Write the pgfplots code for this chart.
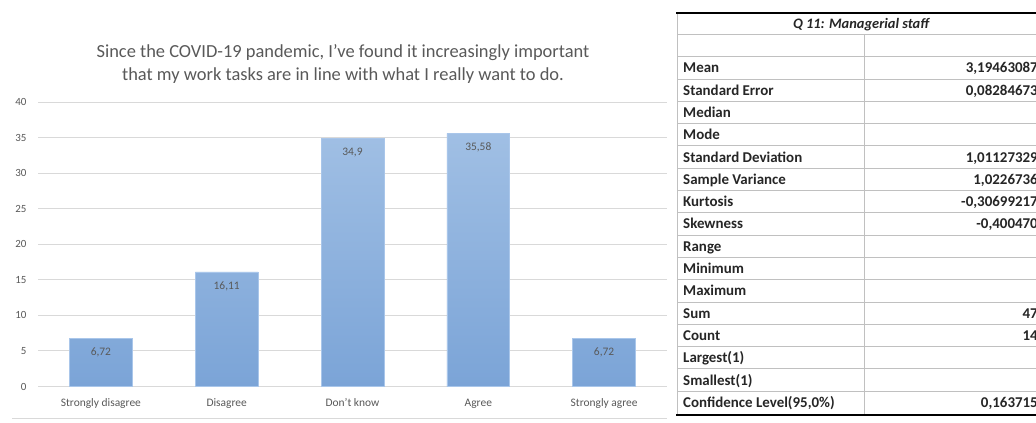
\documentclass[border=0pt]{standalone}
\usepackage{pgfplots}
\pgfplotsset{compat=1.18}
\usepackage{fontspec}
\setmainfont{Carlito}
\definecolor{txt}{HTML}{595959}
\definecolor{gridc}{HTML}{D9D9D9}
\definecolor{bartop}{HTML}{A0BFE4}
\definecolor{barbot}{HTML}{7BA4D7}
\definecolor{baredge}{HTML}{A9C6EA}
\definecolor{tblline}{HTML}{C0C0C0}
\definecolor{ttxt}{HTML}{262626}
\begin{document}
\begin{tikzpicture}
\path[use as bounding box] (0,0) rectangle (1036bp,-423bp);
\clip (0,0) rectangle (1036bp,-423bp);
\fill[white] (0,0) rectangle (1036bp,-423bp);
% title
\node[align=center, text=txt, font=\fontsize{18.5}{24}\selectfont] at (343bp,-64bp)
  {Since the COVID-19 pandemic, I've found it increasingly important\\that my work tasks are in line with what I really want to do.};
\begin{axis}[
  at={(38bp,-386.5bp)}, anchor=south west,
  scale only axis, width=629bp, height=284.5bp,
  xmin=-0.5, xmax=4.5, ymin=0, ymax=40,
  ytick={0,5,...,40},
  xtick=data,
  xticklabels={Strongly disagree, Disagree, Don't know, Agree, Strongly agree},
  axis line style={draw=none},
  ymajorgrids, grid style={gridc, line width=0.9bp},
  major tick length=0pt,
  tick label style={text=txt},
  yticklabel style={font=\fontsize{11}{12}\selectfont, anchor=east, xshift=-8bp},
  xticklabel style={font=\fontsize{11.5}{13}\selectfont, anchor=north, text height=8.5bp, text depth=2.5bp, yshift=-8bp},
  /pgf/number format/assume math mode=true,
  /pgf/number format/use comma,
  /pgf/number format/1000 sep={},
  ybar, bar width=0.5,
  nodes near coords,
  nodes near coords style={anchor=center, yshift=-14bp, text=txt, font=\fontsize{11.5}{13}\selectfont},
  clip=false,
]
\addplot[draw=baredge, line width=0.6bp, top color=bartop, bottom color=barbot]
  coordinates {(0,6.72) (1,16.11) (2,34.9) (3,35.58) (4,6.72)};
\end{axis}
\draw[gridc, line width=0.9bp] (12bp,-418bp) -- (667bp,-418bp);
% table
\begin{scope}[x=1bp,y=1bp]
\draw[tblline, line width=0.9bp] (677,-13) -- (677,-415);
\draw[tblline, line width=0.9bp] (864,-34.4) -- (864,-415);
\draw[tblline, line width=0.9bp] (677,-34.4) -- (1040,-34.4);
\draw[tblline, line width=0.9bp] (677,-56.7) -- (1040,-56.7);
\foreach \k in {1,...,15}{
  \draw[tblline, line width=0.9bp] (677,{-56.7-22.3*\k}) -- (1040,{-56.7-22.3*\k});
}
\draw[black, line width=2.6bp] (676,-13) -- (1040,-13);
\draw[black, line width=2.6bp] (676,-415) -- (1040,-415);
\node[text=ttxt, font=\fontsize{14.5}{16}\selectfont\bfseries\itshape] at (861,-25) {Q 11: Managerial staff};
\foreach \lab/\val [count=\i from 0] in {
  Mean/{3,19463087},
  Standard Error/{0,08284673},
  Median/{},
  Mode/{},
  Standard Deviation/{1,01127329},
  Sample Variance/{1,0226736},
  Kurtosis/{-0,30699217},
  Skewness/{-0,400470},
  Range/{},
  Minimum/{},
  Maximum/{},
  Sum/{47},
  Count/{14},
  Largest(1)/{},
  Smallest(1)/{},
  {Confidence Level(95,0\%)}/{0,163715}}{
  \node[anchor=west, inner sep=0pt, text=ttxt, font=\fontsize{15}{18}\selectfont\bfseries] at (683,{-56.7-22.3*\i-12.6}) {\strut\lab};
  \node[anchor=east, inner sep=0pt, text=ttxt, font=\fontsize{15}{18}\selectfont\bfseries] at (1038,{-56.7-22.3*\i-12.6}) {\strut\val};
}
\end{scope}
\end{tikzpicture}
\end{document}
